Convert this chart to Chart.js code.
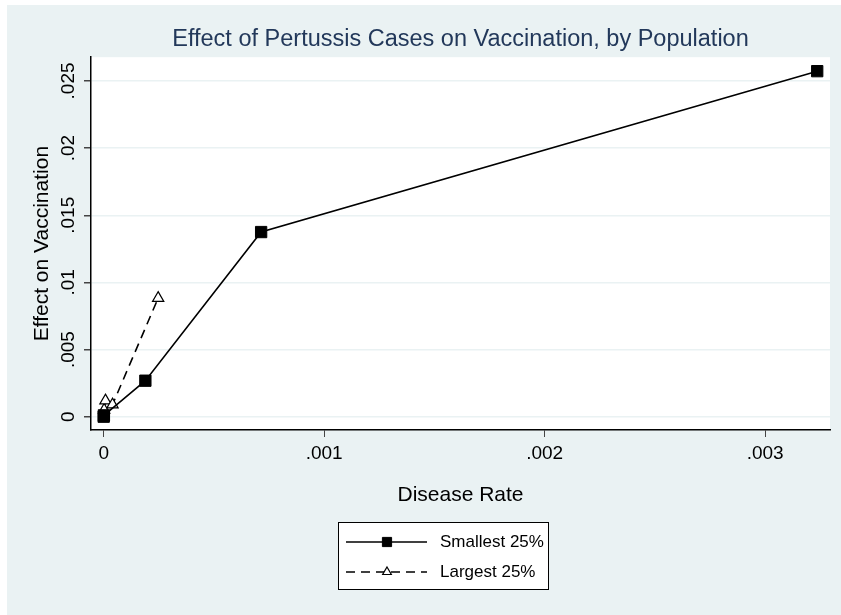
<!DOCTYPE html>
<html>
<head>
<meta charset="utf-8">
<script src="https://cdn.jsdelivr.net/npm/chart.js@4"></script>
<style>
  body { margin: 0; background: #fff; }
  #wrap { width: 841px; height: 615px; }
</style>
</head>
<body>
<div id="wrap"><canvas id="chart" width="841" height="615"></canvas></div>
<script>
// data
const smallRate = [0, 0.000001, 0.000189, 0.000714, 0.003236];
const smallEffect = [0, 0.0001, 0.00268, 0.01375, 0.02573];
const largeRate = [0.000002, 0.000008, 0.00004, 0.000247];
const largeEffect = [0.0005, 0.0012, 0.0009, 0.00883];

const seriesNames = ['Smallest 25%', 'Largest 25%'];
const xTicks = [0, 0.001, 0.002, 0.003];
const xTickLabels = ['0', '.001', '.002', '.003'];
const yTicks = [0, 0.005, 0.01, 0.015, 0.02, 0.025];
const yTickLabels = ['0', '.005', '.01', '.015', '.02', '.025'];

const BG = '#EAF2F3';
const FONT = 'Liberation Sans, Arial, sans-serif';

function toPoints(xs, ys) {
    return xs.map((x, i) => ({ x: x, y: ys[i] }));
}

// background + white plot region
const backdrop = {
    id: 'backdrop',
    beforeDraw(chart) {
        const ctx = chart.ctx;
        const a = chart.chartArea;
        ctx.save();
        ctx.fillStyle = '#fff';
        ctx.fillRect(0, 0, chart.width, chart.height);
        ctx.fillStyle = BG;
        ctx.fillRect(7, 5, chart.width - 7, chart.height - 5);
        ctx.fillStyle = '#fff';
        ctx.fillRect(a.left, a.top, a.right - a.left, a.bottom - a.top);
        ctx.restore();
    }
};

// legend box under the x title, line + marker samples
const boxLegend = {
    id: 'boxLegend',
    afterDraw(chart) {
        const ctx = chart.ctx;
        const bx = 338, by = 522, bw = 210, bh = 67;
        ctx.save();
        ctx.fillStyle = '#fff';
        ctx.fillRect(bx, by, bw, bh);
        ctx.strokeStyle = '#000';
        ctx.lineWidth = 1;
        ctx.strokeRect(bx + 0.5, by + 0.5, bw, bh);

        chart.data.datasets.forEach((ds, i) => {
            const y = 542 + i * 30;
            ctx.strokeStyle = '#000';
            ctx.lineWidth = 1.6;
            ctx.setLineDash(ds.borderDash || []);
            ctx.beginPath();
            ctx.moveTo(346, y);
            ctx.lineTo(427, y);
            ctx.stroke();
            ctx.setLineDash([]);
            ctx.fillStyle = ds.pointBackgroundColor;
            ctx.strokeStyle = '#000';
            ctx.lineWidth = ds.pointBorderWidth;
            Chart.helpers.drawPoint(ctx, {
                pointStyle: ds.pointStyle,
                radius: ds.pointRadius - 1.5,
                borderWidth: ds.pointBorderWidth
            }, 387, y);
            ctx.fillStyle = '#000';
            ctx.font = '17px ' + FONT;
            ctx.textBaseline = 'middle';
            ctx.textAlign = 'left';
            ctx.fillText(ds.label, 440, y);
        });
        ctx.restore();
    }
};

new Chart(document.getElementById('chart'), {
    type: 'line',
    data: {
        datasets: [{
            label: seriesNames[0],
            data: toPoints(smallRate, smallEffect),
            borderColor: '#000',
            borderWidth: 1.6,
            pointStyle: 'rect',
            pointRadius: 8,
            pointBorderWidth: 1,
            pointBackgroundColor: '#000',
            pointBorderColor: '#000'
        }, {
            label: seriesNames[1],
            data: toPoints(largeRate, largeEffect),
            borderColor: '#000',
            borderWidth: 1.6,
            borderDash: [9, 6],
            pointStyle: 'triangle',
            pointRadius: 6.5,
            pointBorderWidth: 1.2,
            pointBackgroundColor: '#fff',
            pointBorderColor: '#000'
        }]
    },
    options: {
        responsive: false,
        animation: false,
        layout: {
            padding: { left: 0, right: 11, top: 5, bottom: 107 }
        },
        plugins: {
            legend: { display: false },
            tooltip: { enabled: false },
            title: {
                display: true,
                fullSize: false,
                text: 'Effect of Pertussis Cases on Vaccination, by Population',
                color: '#22385a',
                font: { family: FONT, size: 23.5, weight: 'normal' },
                padding: { top: 20, bottom: 4 }
            }
        },
        scales: {
            x: {
                type: 'linear',
                min: -0.0000576,
                max: 0.003294,
                afterBuildTicks(scale) {
                    scale.ticks = xTicks.map(v => ({ value: v }));
                },
                afterFit(scale) { scale.height = 78; },
                ticks: {
                    color: '#000',
                    padding: 5,
                    font: { family: FONT, size: 19 },
                    callback: (v) => xTickLabels[xTicks.indexOf(v)]
                },
                grid: {
                    drawOnChartArea: false,
                    drawTicks: true,
                    tickLength: 7,
                    tickColor: '#444'
                },
                border: { display: true, color: '#000', width: 1.5 },
                title: {
                    display: true,
                    text: 'Disease Rate',
                    color: '#000',
                    font: { family: FONT, size: 21 },
                    padding: { top: 0, bottom: 0 }
                }
            },
            y: {
                type: 'linear',
                min: -0.00099,
                max: 0.02677,
                afterBuildTicks(scale) {
                    scale.ticks = yTicks.map(v => ({ value: v }));
                },
                afterFit(scale) { scale.width = 91; },
                ticks: {
                    color: '#000',
                    padding: -3,
                    minRotation: 90,
                    maxRotation: 90,
                    crossAlign: 'center',
                    font: { family: FONT, size: 19 },
                    callback: (v) => yTickLabels[yTicks.indexOf(v)]
                },
                grid: {
                    color: BG,
                    lineWidth: 1.5,
                    tickLength: 7,
                    tickColor: '#444'
                },
                border: { display: true, color: '#000', width: 1.5 },
                title: {
                    display: true,
                    text: 'Effect on Vaccination',
                    color: '#000',
                    font: { family: FONT, size: 21 },
                    padding: { top: 30, bottom: 0 }
                }
            }
        }
    },
    plugins: [backdrop, boxLegend]
});
</script>
</body>
</html>
